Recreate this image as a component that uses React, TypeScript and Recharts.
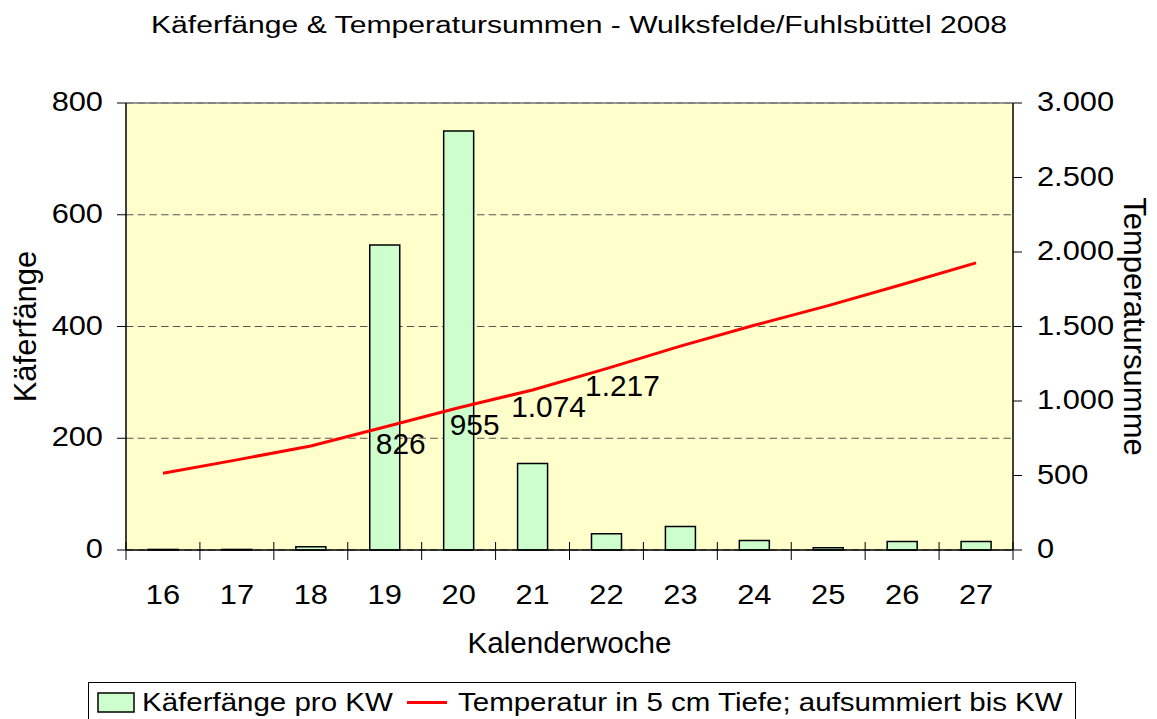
import React from "react";
import {
  ComposedChart,
  Bar,
  Line,
  XAxis,
  YAxis,
  CartesianGrid,
  ReferenceLine,
  LabelList,
} from "recharts";

const FONT = '"Liberation Sans", Arial, Helvetica, sans-serif';

// Kalenderwochen
const weeks = ["16", "17", "18", "19", "20", "21", "22", "23", "24", "25", "26", "27"];
// Käferfänge pro KW
const kaefer = [1, 1, 6, 546, 750, 155, 29, 42, 17, 4, 15, 15];
// Temperatursumme (5 cm Tiefe, aufsummiert)
const tempSum = [515, 605, 698, 826, 955, 1074, 1217, 1368, 1508, 1640, 1782, 1927];
// Datenbeschriftungen der Linie
const tempLabels = ["", "", "", "826", "955", "1.074", "1.217", "", "", "", "", ""];
// Achsenticks
const leftTicks = [0, 200, 400, 600, 800];
const rightTicks = [0, 500, 1000, 1500, 2000, 2500, 3000];

const data = weeks.map((w, i) => ({
  week: w,
  kaefer: kaefer[i],
  temp: tempSum[i],
  lbl: tempLabels[i],
}));

const fmtDe = (v: number) =>
  String(v).replace(/\B(?=(\d{3})+(?!\d))/g, ".");

function STxt({ x, y, size, sx = 1, rot = 0, anchor = "middle", children }: any) {
  return (
    <text
      transform={`translate(${x},${y}) rotate(${rot}) scale(${sx},1)`}
      x={0}
      y={0}
      textAnchor={anchor}
      fontSize={size}
      fontFamily={FONT}
      fill="#000"
    >
      {children}
    </text>
  );
}

function XTick(props: any) {
  const { x, y, payload, index, visibleTicksCount, width } = props;
  const half =
    typeof payload.offset === "number" && payload.offset > 0
      ? payload.offset
      : width / visibleTicksCount / 2;
  return (
    <g>
      <line x1={x - half} x2={x - half} y1={y - 8} y2={y + 10} stroke="#000" strokeWidth={1} />
      {index === visibleTicksCount - 1 && (
        <line x1={x + half} x2={x + half} y1={y - 8} y2={y + 10} stroke="#000" strokeWidth={1} />
      )}
      <STxt x={x} y={y + 54} size={28} sx={1.1}>
        {payload.value}
      </STxt>
    </g>
  );
}

function LeftTick(props: any) {
  const { x, y, payload } = props;
  return (
    <STxt x={x} y={y + 8} size={28} sx={1.1} anchor="end">
      {payload.value}
    </STxt>
  );
}

function RightTick(props: any) {
  const { x, y, payload } = props;
  return (
    <STxt x={x} y={y + 8} size={28} sx={1.1} anchor="start">
      {fmtDe(payload.value)}
    </STxt>
  );
}

function PointLabel(props: any) {
  const { x, y, value } = props;
  if (!value) return null;
  return (
    <STxt x={x + 16} y={y + 27} size={29} sx={1.03}>
      {value}
    </STxt>
  );
}

export default function App() {
  return (
    <div
      style={{
        position: "absolute",
        left: 0,
        top: 0,
        width: 1157,
        height: 719,
        background: "#fff",
        overflow: "hidden",
      }}
    >
      <ComposedChart
        width={1157}
        height={719}
        data={data}
        margin={{ top: 103, right: 0, bottom: 0, left: 0 }}
        barSize={30}
      >
        <CartesianGrid
          yAxisId="left"
          vertical={false}
          horizontal={true}
          fill="#FFFFCC"
          stroke="#555"
          strokeDasharray="7.5 4.2"
          strokeWidth={1}
        />
        <XAxis
          dataKey="week"
          height={169}
          interval={0}
          tickSize={0}
          tickMargin={0}
          tickLine={false}
          axisLine={{ stroke: "#000", strokeWidth: 1.5 }}
          tick={(p: any) => <XTick {...p} />}
          label={{
            content: (p: any) => {
              const vb = p.viewBox;
              return (
                <STxt x={vb.x + vb.width / 2} y={vb.y + 103} size={29} sx={1.02}>
                  Kalenderwoche
                </STxt>
              );
            },
          }}
        />
        <YAxis
          yAxisId="left"
          orientation="left"
          width={126}
          domain={[0, 800]}
          ticks={leftTicks}
          interval={0}
          tickSize={9}
          tickMargin={14}
          axisLine={{ stroke: "#000", strokeWidth: 1.5 }}
          tickLine={{ stroke: "#000" }}
          tick={(p: any) => <LeftTick {...p} />}
          label={{
            content: (p: any) => {
              const vb = p.viewBox;
              return (
                <STxt x={vb.x + 36} y={vb.y + vb.height / 2} size={31} rot={-90}>
                  Käferfänge
                </STxt>
              );
            },
          }}
        />
        <YAxis
          yAxisId="right"
          orientation="right"
          width={144}
          domain={[0, 3000]}
          ticks={rightTicks}
          interval={0}
          tickSize={9}
          tickMargin={15}
          axisLine={{ stroke: "#000", strokeWidth: 1.5 }}
          tickLine={{ stroke: "#000" }}
          tick={(p: any) => <RightTick {...p} />}
          label={{
            content: (p: any) => {
              const vb = p.viewBox;
              return (
                <STxt x={vb.x + 111} y={vb.y + vb.height / 2} size={31} rot={90}>
                  Temperatursumme
                </STxt>
              );
            },
          }}
        />
        <ReferenceLine yAxisId="left" y={800} stroke="#777" strokeWidth={1.5} />
        <Bar
          yAxisId="left"
          dataKey="kaefer"
          fill="#CCFFCC"
          stroke="#000"
          strokeWidth={1.5}
          isAnimationActive={false}
        />
        <Line
          yAxisId="right"
          dataKey="temp"
          type="linear"
          stroke="#FF0000"
          strokeWidth={3}
          dot={false}
          activeDot={false}
          isAnimationActive={false}
        >
          <LabelList dataKey="lbl" content={(p: any) => <PointLabel {...p} />} />
        </Line>
      </ComposedChart>

      <svg
        width={1157}
        height={719}
        style={{ position: "absolute", left: 0, top: 0, pointerEvents: "none" }}
      >
        <STxt x={579} y={33} size={23} sx={1.31}>
          Käferfänge &amp; Temperatursummen - Wulksfelde/Fuhlsbüttel 2008
        </STxt>
        <rect x={88.5} y={682.5} width={987} height={60} fill="#fff" stroke="#000" strokeWidth={1} />
        <rect x={98} y={693} width={36} height={19} fill="#CCFFCC" stroke="#000" strokeWidth={1.5} />
        <STxt x={142} y={711} size={25} sx={1.18} anchor="start">
          Käferfänge pro KW
        </STxt>
        <line x1={407} x2={447} y1={702.5} y2={702.5} stroke="#FF0000" strokeWidth={3} />
        <STxt x={458} y={711} size={25} sx={1.18} anchor="start">
          Temperatur in 5 cm Tiefe; aufsummiert bis KW
        </STxt>
      </svg>
    </div>
  );
}
